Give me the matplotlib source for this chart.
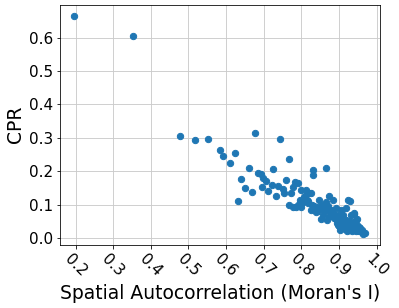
import matplotlib
matplotlib.use("Agg")
import matplotlib.pyplot as plt

morans_i = [
    0.197, 0.354, 0.478, 0.518, 0.553, 0.584, 0.593, 0.624, 0.611, 0.677,
    0.660, 0.640, 0.651, 0.668, 0.632, 0.686, 0.694, 0.699, 0.706, 0.695,
    0.712, 0.721, 0.726, 0.732, 0.744, 0.768, 0.760, 0.739, 0.750, 0.754,
    0.778, 0.783, 0.792, 0.772, 0.800, 0.812, 0.821, 0.766, 0.778, 0.796,
    0.805, 0.798, 0.819, 0.825, 0.847, 0.843, 0.856, 0.838, 0.865, 0.832,
    0.832, 0.866, 0.874, 0.883, 0.865, 0.925, 0.860, 0.878, 0.891, 0.918,
    0.940, 0.931, 0.944, 0.852, 0.869, 0.891, 0.967, 0.825, 0.807, 0.815,
    0.828, 0.835, 0.850, 0.870, 0.880, 0.885, 0.895, 0.900, 0.905, 0.910,
    0.873, 0.858, 0.785, 0.790, 0.949, 0.940, 0.929, 0.895, 0.900, 0.900,
    0.905, 0.908, 0.910, 0.912, 0.915, 0.915, 0.918, 0.920, 0.920, 0.922,
    0.925, 0.925, 0.928, 0.930, 0.930, 0.932, 0.935, 0.936, 0.938, 0.940,
    0.942, 0.944, 0.946, 0.948, 0.950, 0.952, 0.955, 0.957, 0.960, 0.962,
    0.965, 0.970, 0.903, 0.888, 0.898, 0.913, 0.927, 0.943, 0.953, 0.958,
    0.845, 0.862, 0.882, 0.811, 0.817,
]
cpr = [
    0.666, 0.605, 0.305, 0.292, 0.297, 0.262, 0.245, 0.253, 0.225, 0.314,
    0.210, 0.177, 0.149, 0.139, 0.111, 0.194, 0.192, 0.179, 0.171, 0.152,
    0.142, 0.158, 0.206, 0.127, 0.296, 0.237, 0.174, 0.157, 0.146, 0.134,
    0.152, 0.169, 0.164, 0.136, 0.144, 0.144, 0.136, 0.098, 0.093, 0.114,
    0.108, 0.093, 0.104, 0.083, 0.114, 0.093, 0.098, 0.078, 0.083, 0.202,
    0.188, 0.209, 0.126, 0.114, 0.108, 0.114, 0.083, 0.073, 0.089, 0.089,
    0.073, 0.068, 0.053, 0.058, 0.053, 0.058, 0.015, 0.134, 0.123, 0.115,
    0.100, 0.095, 0.090, 0.095, 0.085, 0.075, 0.070, 0.062, 0.085, 0.070,
    0.065, 0.070, 0.094, 0.100, 0.056, 0.076, 0.111, 0.045, 0.050, 0.035,
    0.042, 0.030, 0.055, 0.038, 0.048, 0.028, 0.040, 0.055, 0.032, 0.022,
    0.045, 0.035, 0.025, 0.040, 0.050, 0.030, 0.022, 0.040, 0.030, 0.035,
    0.025, 0.020, 0.030, 0.038, 0.025, 0.020, 0.030, 0.022, 0.018, 0.025,
    0.012, 0.014, 0.025, 0.060, 0.040, 0.045, 0.030, 0.028, 0.033, 0.020,
    0.080, 0.090, 0.065, 0.125, 0.110,
]
x_ticks = [0.2, 0.3, 0.4, 0.5, 0.6, 0.7, 0.8, 0.9, 1.0]
y_ticks = [0.0, 0.1, 0.2, 0.3, 0.4, 0.5, 0.6]

fig, ax = plt.subplots(figsize=(399 / 72, 308 / 72), dpi=72)
ax.scatter(morans_i, cpr, color="#1f77b4", s=40)
ax.set_axisbelow(True)
ax.grid(True, color="#cbcbcb", linewidth=0.9)
ax.set_xlabel("Spatial Autocorrelation (Moran's I)", fontsize=18.8)
ax.set_ylabel("CPR", fontsize=18.8)
ax.tick_params(axis="both", labelsize=15.2)
ax.set_xticks(x_ticks)
ax.set_yticks(y_ticks)
plt.setp(ax.get_xticklabels(), rotation=-45, ha="center")
fig.subplots_adjust(left=0.15, right=0.952, top=0.985, bottom=0.205)
fig.savefig("out.png", dpi=72)
